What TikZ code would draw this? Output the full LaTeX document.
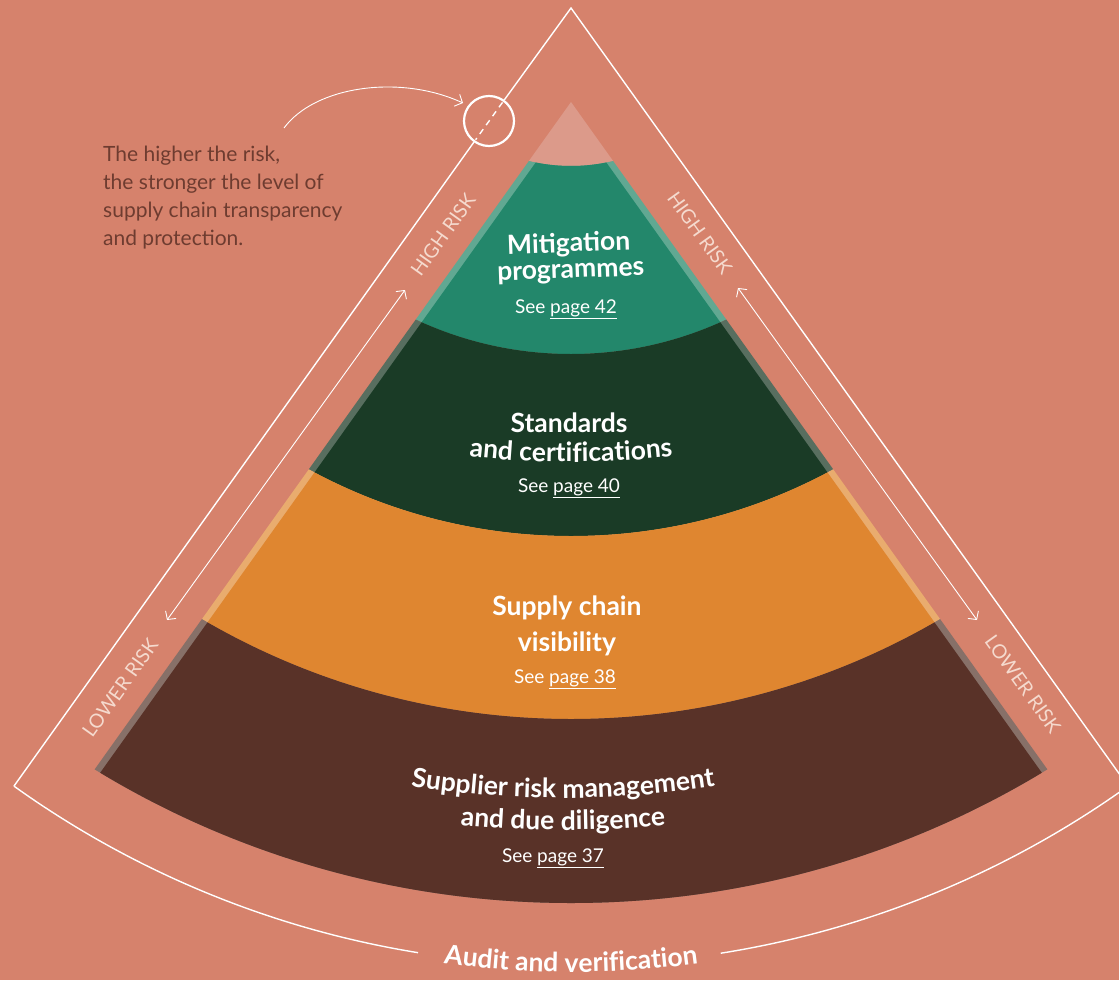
\documentclass[tikz,border=0pt]{standalone}
\usepackage{fontspec}
\setmainfont{Lato}
\usetikzlibrary{arrows.meta,calc,decorations.text}

\definecolor{bgsalmon}{HTML}{D6826C}
\definecolor{apexpink}{HTML}{DC9A8A}
\definecolor{mitgreen}{HTML}{23876B}
\definecolor{mitstrip}{HTML}{61A892}
\definecolor{stdgreen}{HTML}{1A3B26}
\definecolor{stdstrip}{HTML}{586E5F}
\definecolor{visorange}{HTML}{DF8630}
\definecolor{visstrip}{HTML}{E9AC6E}
\definecolor{supbrown}{HTML}{593228}
\definecolor{supstrip}{HTML}{877068}
\definecolor{notebrown}{HTML}{6E3C30}
\definecolor{riskpink}{HTML}{F5DACE}

\newcommand\pyrtitle{\fontsize{26.5}{28}\selectfont\bfseries\color{white}}

\begin{document}
\begin{tikzpicture}[x=1pt,y=-1pt,>={Straight Barb[length=6pt,width=13pt]},
	frame/.style={white,line width=1.4pt},
	side/.style={white,line width=0.9pt},
	risk/.style={text=riskpink,font=\fontsize{19.5}{19.5}\selectfont},
	title/.style={anchor=base,font=\pyrtitle},
	seepage/.style={anchor=base,text=white,font=\fontsize{19}{19}\selectfont},
	arctext/.style={decorate,decoration={text along path,text align=center,text={|\pyrtitle|#1}}}]
		\useasboundingbox (0,0) rectangle (1119,980);
		\clip (0,0) rectangle (1119,980);
		\fill[bgsalmon] (0,0) rectangle (1119,980);
		\coordinate (ctr) at (571,-12);
		\coordinate (apexO) at (571,8);
		% pyramid layers, light strips first
		\begin{scope}
			\clip (571,102) -- (-70,1000) -- (1212,1000) -- cycle;
			\fill[apexpink] (ctr) circle[radius=178];
			\fill[mitstrip,even odd rule] (ctr) circle[radius=366] (ctr) circle[radius=178];
			\fill[stdstrip,even odd rule] (ctr) circle[radius=548] (ctr) circle[radius=366];
			\fill[visstrip,even odd rule] (ctr) circle[radius=731] (ctr) circle[radius=548];
			\fill[supstrip,even odd rule] (ctr) circle[radius=915] (ctr) circle[radius=731];
		\end{scope}
		\begin{scope}
			\clip (571,113) -- (-62,1000) -- (1204,1000) -- cycle;
			\fill[mitgreen,even odd rule] (ctr) circle[radius=366] (ctr) circle[radius=178];
			\fill[stdgreen,even odd rule] (ctr) circle[radius=548] (ctr) circle[radius=366];
			\fill[visorange,even odd rule] (ctr) circle[radius=731] (ctr) circle[radius=548];
			\fill[supbrown,even odd rule] (ctr) circle[radius=915] (ctr) circle[radius=731];
		\end{scope}
		% outer frame
		\coordinate (cornL) at ($(apexO)+(125.6:957)$);
		\coordinate (cornR) at ($(apexO)+(54.4:957)$);
		\node[circle,draw=white,line width=2.2pt,minimum size=50pt,inner sep=0pt] (loop) at (489,121) {};
		\draw[frame] (cornL) -- (loop);
		\draw[frame] (loop) -- (apexO) -- (cornR);
		\draw[frame,dash pattern=on 6pt off 5pt] ($(loop.center)!23pt!(apexO)$) -- ($(loop.center)!23pt!(cornL)$);
		\draw[frame] (cornL) arc[start angle=125.6,end angle=99.2,radius=957];
		\draw[frame] (cornR) arc[start angle=54.4,end angle=81,radius=957];
		\path[arctext={Audit and verification}] ([shift={(100:964)}]apexO) arc[start angle=100,end angle=80,radius=964];
		% risk arrows
		\coordinate (hiArrL) at (405,290);
		\coordinate (loArrL) at (167,620);
		\coordinate (hiArrR) at (738,288);
		\coordinate (loArrR) at (977,620);
		\draw[side,<->] (hiArrL) -- (loArrL);
		\draw[side,<->] (hiArrR) -- (loArrR);
		\node[risk,rotate=54.4] (hiL) at (443,235) {HIGH RISK};
		\node[risk,rotate=-54.4] (hiR) at (700,233) {HIGH RISK};
		\node[risk,rotate=54.4] (loL) at (120,688) {LOWER RISK};
		\node[risk,rotate=-54.4] (loR) at (1023,684) {LOWER RISK};
		% side note
		\node[anchor=north west,inner sep=0pt,align=left,text=notebrown,font=\fontsize{21}{28}\selectfont] (note) at (103,146)
			{The higher the risk,\\the stronger the level of\\supply chain transparency\\and protection.};
		\coordinate (noteStart) at (284,128);
		\coordinate (noteEnd) at (463,103);
		\draw[side,->] (noteStart) .. controls (315,86) and (400,74) .. (noteEnd);
		% layer labels
		\node[title,rotate=2] (mitA) at (569,252) {Mitigation};
		\node[title,rotate=2] (mitB) at (571,278) {programmes};
		\node[seepage] (mitP) at (566,313) {See \underline{page 42}};
		\node[title] (stdA) at (569,432) {Standards};
		\path[arctext={and certifications}] ([shift={(105:900)}]571,-438) arc[start angle=105,end angle=75,radius=900];
		\node[seepage] (stdP) at (569,492) {See \underline{page 40}};
		\node[title] (visA) at (567,615) {Supply chain};
		\node[title] (visB) at (567,651) {visibility};
		\node[seepage] (visP) at (565,683) {See \underline{page 38}};
		\path[arctext={Supplier risk management}] ([shift={(105:1000)}]563,-202) arc[start angle=105,end angle=75,radius=1000];
		\path[arctext={and due diligence}] ([shift={(105:1100)}]563,-270) arc[start angle=105,end angle=75,radius=1100];
		\node[seepage] (supP) at (553,862) {See \underline{page 37}};
	\end{tikzpicture}
\end{document}
